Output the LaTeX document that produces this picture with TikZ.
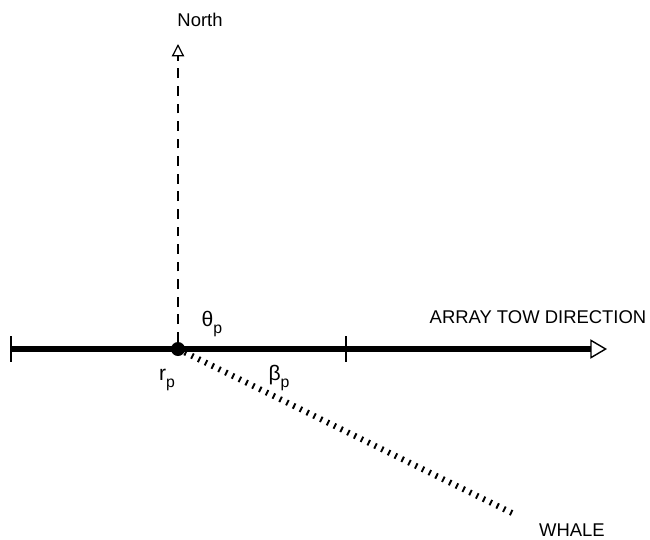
\documentclass[tikz,border=0pt]{standalone}
\usepackage{fontspec}
\setmainfont{Liberation Sans}
\usetikzlibrary{arrows.meta}

\newcommand{\lowsub}[1]{\raisebox{-0.55ex}{\fontsize{9}{10}\selectfont #1}}

\tikzset{
  label text/.style={font=\fontsize{10.5}{12}\selectfont, inner sep=1pt},
  greek text/.style={font=\fontsize{12}{14}\selectfont, inner sep=1pt},
  tow line/.style={line width=3.4pt,
    -{Triangle[open, line width=0.8pt, length=9.5pt, width=11pt]}},
  north line/.style={line width=0.6pt, dash pattern=on 5.5pt off 4.5pt,
    -{Triangle[open, line width=0.7pt, length=7pt, width=7pt]}},
  whale line/.style={line width=3.4pt, dash pattern=on 1.1pt off 3.2pt},
  end tick/.style={line width=0.6pt}
}

\begin{document}
\begin{tikzpicture}[x=0.02cm, y=-0.02cm]
    \useasboundingbox (0,0) rectangle (650,539);
    % positions
    \coordinate (left end) at (11,349);
    \coordinate (mid tick) at (346,349);
    \coordinate (tow tip) at (607,349);
    \coordinate (north tip) at (178,44);
    \coordinate (whale end) at (512,513);
    \node[circle, fill, inner sep=0pt, minimum size=0.28cm] (rp dot) at (178,349) {};
    % lines
    \draw[tow line] (left end) -- (tow tip);
    \draw[north line] (rp dot.north) -- (north tip);
    \draw[whale line] (rp dot.center) -- (whale end);
    \draw[end tick] (left end) ++(0,-13) -- ++(0,26);
    \draw[end tick] (mid tick) ++(0,-13) -- ++(0,26);
    % labels
    \node[label text] (north) at (200,20) {North};
    \node[label text] (tow dir) at (538,317) {ARRAY TOW DIRECTION};
    \node[greek text] (theta p) at (212,324) {θ\lowsub{p}};
    \node[greek text] (beta p) at (279,378) {β\lowsub{p}};
    \node[greek text] (r p) at (167,380) {r\lowsub{p}};
    \node[label text] (whale) at (572,530) {WHALE};
  \end{tikzpicture}
\end{document}
